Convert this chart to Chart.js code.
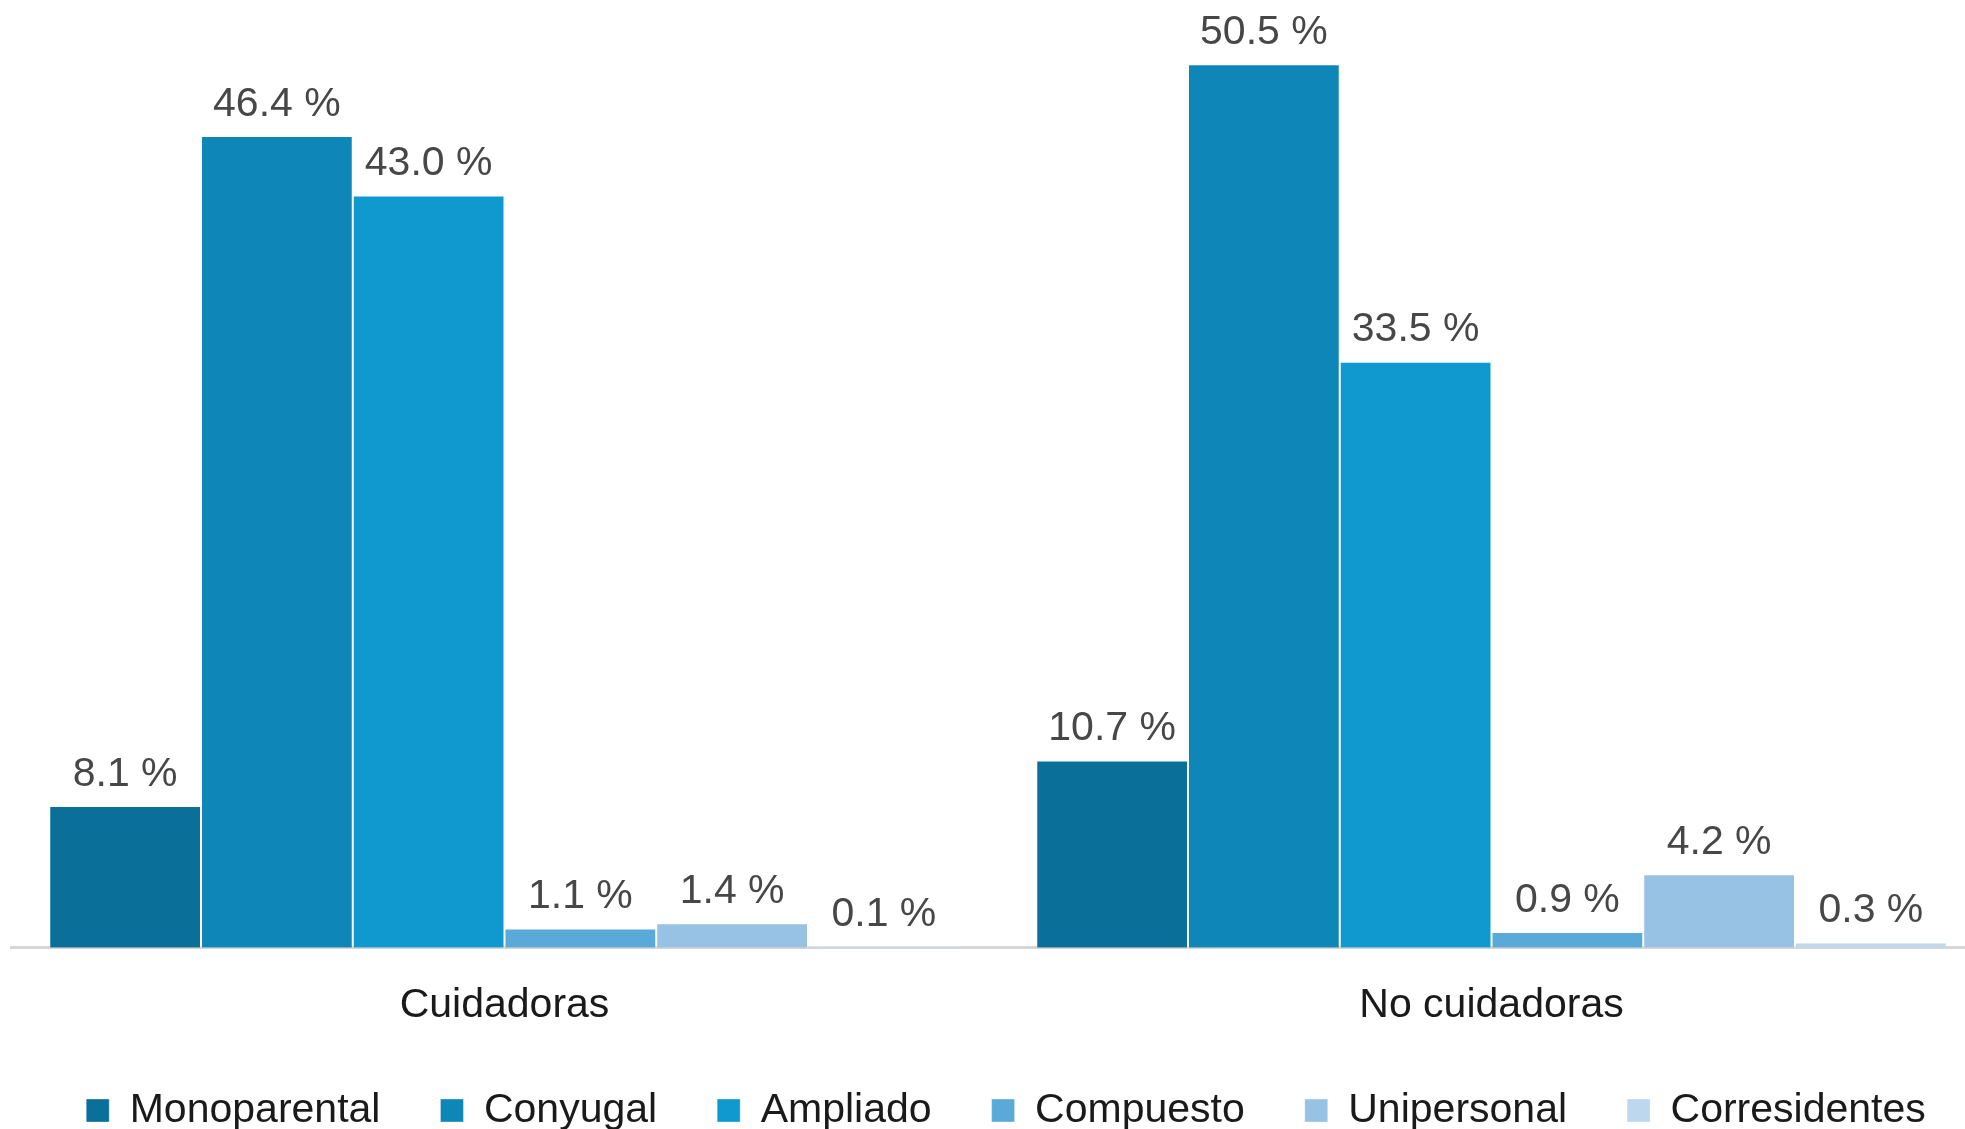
<!DOCTYPE html>
<html>
<head>
<meta charset="utf-8">
<script src="https://cdn.jsdelivr.net/npm/chart.js@4"></script>
<style>
  html, body { margin: 0; padding: 0; background: #fff; overflow: hidden; }
  canvas { display: block; }
</style>
</head>
<body>
<canvas id="hogaresChart" width="2001" height="1141"></canvas>
<script>
var categories = ['Cuidadoras', 'No cuidadoras'];
var seriesNames = ['Monoparental', 'Conyugal', 'Ampliado', 'Compuesto', 'Unipersonal', 'Corresidentes'];
var monoparental = [8.1, 10.7];
var conyugal = [46.4, 50.5];
var ampliado = [43.0, 33.5];
var compuesto = [1.1, 0.9];
var unipersonal = [1.4, 4.2];
var corresidentes = [0.1, 0.3];
var colores = ['#0a6f99', '#0e86b8', '#1099cf', '#5aaad9', '#97c2e3', '#bdd7ee'];

var seriesValues = [monoparental, conyugal, ampliado, compuesto, unipersonal, corresidentes];

// etiquetas con el porcentaje sobre cada barra
var valueLabels = {
    id: 'valueLabels',
    afterDatasetsDraw: function (chart) {
        var ctx = chart.ctx;
        ctx.save();
        ctx.font = '41px "Liberation Sans", Arial, sans-serif';
        ctx.fillStyle = '#474747';
        ctx.textAlign = 'center';
        ctx.textBaseline = 'bottom';
        chart.data.datasets.forEach(function (ds, i) {
            chart.getDatasetMeta(i).data.forEach(function (bar, j) {
                ctx.fillText(ds.data[j].toFixed(1) + ' %', bar.x, bar.y - 11);
            });
        });
        ctx.restore();
    }
};

var ctx = document.getElementById('hogaresChart').getContext('2d');
var hogaresChart = new Chart(ctx, {
    type: 'bar',
    data: {
        labels: categories,
        datasets: seriesNames.map(function (name, i) {
            return {
                label: name,
                data: seriesValues[i],
                backgroundColor: colores[i],
                borderColor: 'rgba(255, 255, 255, 0.35)',
                borderWidth: 1,
                categoryPercentage: 0.9225,
                barPercentage: 1
            };
        })
    },
    options: {
        responsive: false,
        animation: false,
        layout: {
            padding: { left: 11, right: 0, top: 3, bottom: 0 }
        },
        scales: {
            x: {
                grid: { display: false, drawTicks: false },
                border: { display: true, color: '#d6d6d6', width: 3 },
                ticks: {
                    color: '#1a1a1a',
                    padding: 33,
                    font: { family: '"Liberation Sans", Arial, sans-serif', size: 41 }
                },
                afterFit: function (axis) {
                    axis.height -= 33;
                }
            },
            y: {
                position: 'right',
                min: 0,
                max: 54,
                grid: { display: false },
                border: { display: false },
                ticks: { display: false },
                afterFit: function (axis) {
                    axis.width = 16;
                }
            }
        },
        plugins: {
            legend: {
                position: 'bottom',
                labels: {
                    color: '#1a1a1a',
                    boxWidth: 23,
                    boxHeight: 23,
                    padding: 60,
                    font: { family: '"Liberation Sans", Arial, sans-serif', size: 41 }
                }
            },
            tooltip: { enabled: false }
        }
    },
    plugins: [valueLabels]
});
</script>
</body>
</html>
